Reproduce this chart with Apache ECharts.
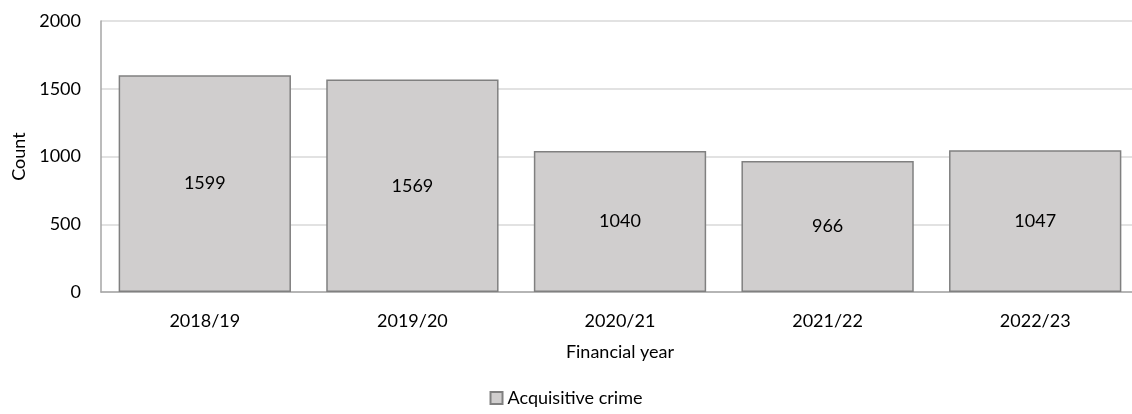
<!DOCTYPE html>
<html><head><meta charset="utf-8">
<script src="https://cdn.jsdelivr.net/npm/echarts@6/dist/echarts.min.js"></script>
<style>html,body{margin:0;padding:0;background:#fff;overflow:hidden}#c{width:1132px;height:414px}</style>
</head><body><div id="c"></div>
<script>
const categories = ['2018/19','2019/20','2020/21','2021/22','2022/23'];
const acquisitive = [1599,1569,1040,966,1047];
const yTicks = [0,500,1000,1500,2000];
const seriesName = 'Acquisitive crime';

const font = 'Lato, "Open Sans", sans-serif';
const chart = echarts.init(document.getElementById('c'));
chart.setOption({
  animation:false,
  textStyle:{fontFamily:font},
  grid:{left:101,width:1038,top:21,height:271,containLabel:false,outerBoundsMode:'none'},
  legend:{bottom:2,left:'center',itemWidth:12,itemHeight:12,itemGap:4,
    textStyle:{fontFamily:font,fontSize:18,color:'#000'},
    data:[{name:seriesName,icon:'rect'}]},
  xAxis:{type:'category',data:categories,name:'Financial year',nameLocation:'middle',nameGap:51,
    nameTextStyle:{fontFamily:font,fontSize:18,color:'#000'},
    axisLine:{lineStyle:{color:'#a6a6a6',width:1.5}},axisTick:{show:false},
    axisLabel:{fontFamily:font,fontSize:18,color:'#000',margin:20}},
  yAxis:{type:'value',min:yTicks[0],max:yTicks[yTicks.length-1],interval:500,name:'Count',nameLocation:'middle',nameGap:72,
    nameTextStyle:{fontFamily:font,fontSize:18,color:'#000'},
    axisLine:{show:true,lineStyle:{color:'#a6a6a6',width:1.5}},axisTick:{show:false},
    splitLine:{lineStyle:{color:'#d9d9d9',width:1.5}},
    axisLabel:{fontFamily:font,fontSize:18,color:'#000',margin:20,formatter:v=>String(v)}},
  series:[{name:seriesName,type:'bar',data:acquisitive,barCategoryGap:'17%',
    itemStyle:{color:'#d0cece',borderColor:'#808080',borderWidth:1.5},
    label:{show:true,position:'inside',fontFamily:font,fontSize:18,color:'#000'}}]
});
</script></body></html>
